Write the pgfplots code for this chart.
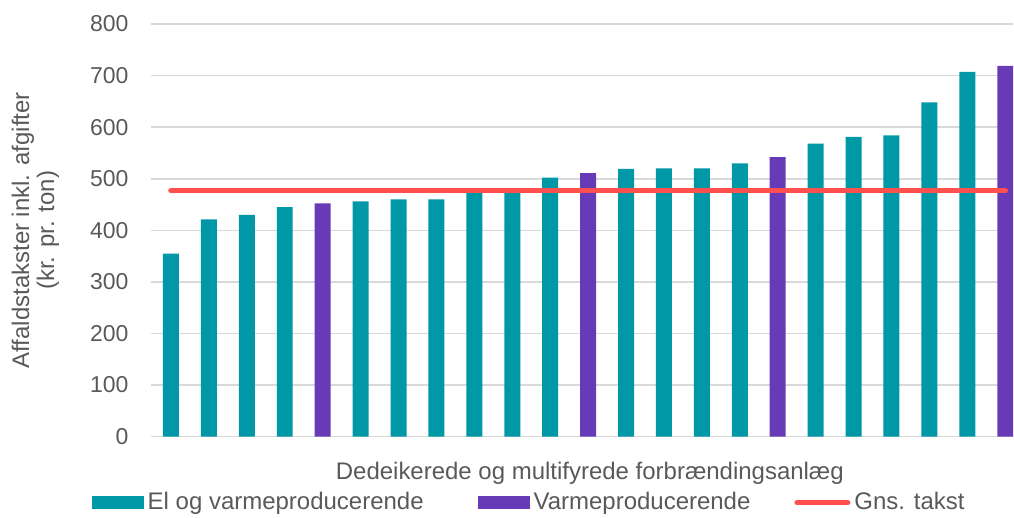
\documentclass[border=0pt]{standalone}
\usepackage{pgfplots}
\pgfplotsset{compat=1.18}
\usepackage{fontspec}
\setmainfont{Liberation Sans}
\definecolor{teal1}{HTML}{0098A6}
\definecolor{purp1}{HTML}{673AB7}
\definecolor{red1}{HTML}{FF5050}
\definecolor{gridg}{HTML}{D9D9D9}
\definecolor{txtg}{HTML}{595959}
\begin{document}
\fontsize{12pt}{14pt}\selectfont
\begin{tikzpicture}
\path (0,0) rectangle (507pt,257.5pt);
\begin{axis}[
    at={(75.5pt,39pt)}, anchor=south west,
    width=431.5pt, height=206.5pt, scale only axis,
    ybar, bar width=8pt,
    xmin=-0.53, xmax=22.21,
    ymin=0, ymax=800,
    ytick={0,100,...,800},
    xtick=\empty,
    major tick length=0pt,
    axis line style={draw=none},
    ymajorgrids=true,
    grid style={gridg, line width=0.8pt},
    tick label style={font=\fontsize{11.5pt}{13.8pt}\selectfont, text=txtg},
    /pgf/number format/assume math mode=true,
    yticklabel style={xshift=-7pt},
    ylabel={Affaldstakster inkl. afgifter\\(kr. pr. ton)},
    ylabel style={align=center, at={(axis description cs:-0.134,0.5)}, anchor=center, text=txtg, font=\fontsize{12pt}{12.5pt}\selectfont},
    xlabel={Dedeikerede og multifyrede forbrændingsanlæg},
    xlabel style={at={(axis description cs:0.509,-0.09)}, anchor=center, text=txtg, font=\fontsize{12pt}{14pt}\selectfont},
    legend columns=3,
    legend style={at={(axis description cs:-0.069,-0.16)}, anchor=west, draw=none, fill=none,
        font=\fontsize{12pt}{14pt}\selectfont, text=txtg,
        /tikz/column 2/.style={column sep=25pt},
        /tikz/column 4/.style={column sep=20pt},
        inner sep=0pt},
  ]
  \addplot[fill=teal1, draw=none, bar shift=0pt,
    legend image code/.code={\fill (0pt,-3.2pt) rectangle (26pt,3.2pt);}]
    coordinates {(0,355) (1,421) (2,430) (3,445) (5,456) (6,460) (7,460) (8,474) (9,477) (10,502)
      (12,519) (13,520) (14,520) (15,530) (17,568) (18,581) (19,584) (20,648) (21,707)};
  \addlegendentry{El og varmeproducerende}
  \addplot[fill=purp1, draw=none, bar shift=0pt,
    legend image code/.code={\fill (0pt,-3.2pt) rectangle (26pt,3.2pt);}]
    coordinates {(4,452) (11,511) (16,542) (22,719)};
  \addlegendentry{Varmeproducerende}
  \addplot[sharp plot, draw=red1, line width=2.8pt, line cap=round,
    legend image code/.code={\draw[line width=2.5pt, line cap=round] (1.5pt,0pt) -- (27pt,0pt);}]
    coordinates {(0,477) (22,477)};
  \addlegendentry{Gns. takst}
\end{axis}
\end{tikzpicture}
\end{document}
